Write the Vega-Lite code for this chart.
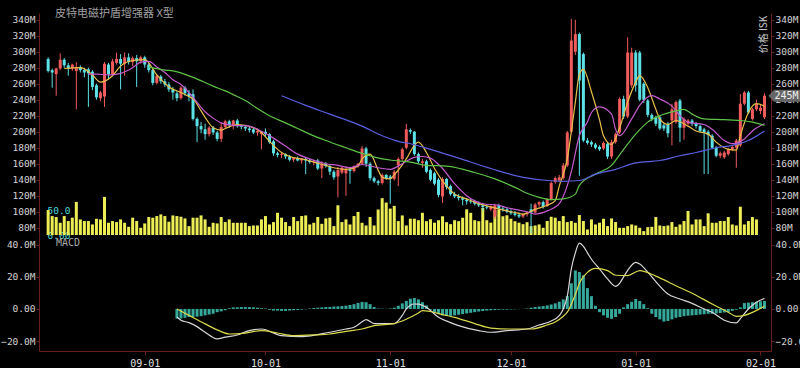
{
"$schema":"https://vega.github.io/schema/vega-lite/v6.json",
"background":"#000000",
"padding":{"left":0,"top":8,"right":0,"bottom":0},
"bounds":"flush",
"spacing":0,
"resolve":{"scale":{"color":"independent"}},
"config":{"view":{"stroke":null},"font":"DejaVu Sans Mono","axis":{"domainColor":"#6a1e1e","tickColor":"#6a1e1e","labelColor":"#d4d4d4","labelFont":"DejaVu Sans Mono","labelFontSize":9.5,"grid":false,"tickSize":3,"labelPadding":1}},
"datasets":{
"k":[
{"d":"2023-08-08","o":291,"h":293,"l":274,"c":276,"v":50.6},
{"d":"2023-08-09","o":277,"h":279,"l":255,"c":274,"v":38.4},
{"d":"2023-08-10","o":272,"h":280,"l":245,"c":279,"v":36.4},
{"d":"2023-08-11","o":279,"h":298,"l":277,"c":290,"v":24.8},
{"d":"2023-08-12","o":290,"h":292,"l":280,"c":283,"v":38.4},
{"d":"2023-08-13","o":283,"h":286,"l":270,"c":279,"v":28.3},
{"d":"2023-08-14","o":279,"h":285,"l":276,"c":284,"v":35.1},
{"d":"2023-08-15","o":276,"h":287,"l":228,"c":281,"v":67},
{"d":"2023-08-16","o":281,"h":283,"l":274,"c":277,"v":31.6},
{"d":"2023-08-17","o":277,"h":280,"l":268,"c":274,"v":28.3},
{"d":"2023-08-18","o":278,"h":280,"l":231,"c":273,"v":28.3},
{"d":"2023-08-19","o":275,"h":277,"l":252,"c":256,"v":21.4},
{"d":"2023-08-20","o":258,"h":260,"l":240,"c":243,"v":32.9},
{"d":"2023-08-21","o":242,"h":251,"l":238,"c":249,"v":31.6},
{"d":"2023-08-22","o":244,"h":287,"l":231,"c":285,"v":77.2},
{"d":"2023-08-23","o":284,"h":286,"l":265,"c":272,"v":24.8},
{"d":"2023-08-24","o":272,"h":291,"l":270,"c":288,"v":28.3},
{"d":"2023-08-25","o":286,"h":299,"l":284,"c":291,"v":26.2},
{"d":"2023-08-26","o":291,"h":297,"l":253,"c":285,"v":31.6},
{"d":"2023-08-27","o":285,"h":299,"l":270,"c":293,"v":24.8},
{"d":"2023-08-28","o":293,"h":298,"l":284,"c":287,"v":16.6},
{"d":"2023-08-29","o":287,"h":294,"l":282,"c":292,"v":35.1},
{"d":"2023-08-30","o":292,"h":296,"l":256,"c":288,"v":28.3},
{"d":"2023-08-31","o":288,"h":295,"l":285,"c":293,"v":14.6},
{"d":"2023-09-01","o":293,"h":295,"l":280,"c":284,"v":23.5},
{"d":"2023-09-02","o":284,"h":286,"l":274,"c":277,"v":36.4},
{"d":"2023-09-03","o":277,"h":279,"l":258,"c":261,"v":35.1},
{"d":"2023-09-04","o":261,"h":272,"l":259,"c":270,"v":38.4},
{"d":"2023-09-05","o":269,"h":271,"l":260,"c":263,"v":41.8},
{"d":"2023-09-06","o":263,"h":266,"l":256,"c":259,"v":38.4},
{"d":"2023-09-07","o":259,"h":262,"l":250,"c":253,"v":26.9},
{"d":"2023-09-08","o":253,"h":256,"l":240,"c":249,"v":39.7},
{"d":"2023-09-09","o":248,"h":251,"l":238,"c":242,"v":38.4,"m":-6},
{"d":"2023-09-10","o":242,"h":257,"l":240,"c":255,"v":37,"m":-6},
{"d":"2023-09-11","o":255,"h":257,"l":245,"c":248,"v":33.6,"m":-5.5},
{"d":"2023-09-12","o":248,"h":252,"l":238,"c":244,"v":18,"m":-5},
{"d":"2023-09-13","o":247,"h":253,"l":214,"c":216,"v":35.1,"m":-5},
{"d":"2023-09-14","o":216,"h":218,"l":187,"c":207,"v":35.1,"m":-4.8},
{"d":"2023-09-15","o":207,"h":212,"l":198,"c":203,"v":39.7,"m":-4.5},
{"d":"2023-09-16","o":203,"h":210,"l":190,"c":197,"v":31.6,"m":-4},
{"d":"2023-09-17","o":197,"h":207,"l":194,"c":205,"v":16.6,"m":-3.5},
{"d":"2023-09-18","o":205,"h":207,"l":196,"c":199,"v":24.8,"m":-3},
{"d":"2023-09-19","o":199,"h":201,"l":188,"c":191,"v":23.5,"m":-2},
{"d":"2023-09-20","o":191,"h":212,"l":187,"c":206,"v":36.4,"m":-1.5},
{"d":"2023-09-21","o":206,"h":215,"l":204,"c":213,"v":26.2,"m":-0.8},
{"d":"2023-09-22","o":213,"h":215,"l":205,"c":208,"v":31.6,"m":0.5},
{"d":"2023-09-23","o":207,"h":215,"l":203,"c":214,"v":24.8,"m":1},
{"d":"2023-09-24","o":214,"h":216,"l":205,"c":207,"v":24.8,"m":1},
{"d":"2023-09-25","o":207,"h":209,"l":203,"c":206,"v":24.8,"m":1.2},
{"d":"2023-09-26","o":206,"h":208,"l":201,"c":204,"v":24.8,"m":1.2},
{"d":"2023-09-27","o":204,"h":207,"l":199,"c":202,"v":18,"m":1.2},
{"d":"2023-09-28","o":203,"h":205,"l":197,"c":199,"v":19.3,"m":1},
{"d":"2023-09-29","o":199,"h":204,"l":195,"c":201,"v":19.3,"m":0.8},
{"d":"2023-09-30","o":197,"h":201,"l":178,"c":200,"v":31.6,"m":0.5},
{"d":"2023-10-01","o":200,"h":204,"l":194,"c":197,"v":38.4,"m":0.3},
{"d":"2023-10-02","o":197,"h":198,"l":185,"c":187,"v":21.4,"m":-0.5},
{"d":"2023-10-03","o":188,"h":190,"l":170,"c":173,"v":26.2,"m":-1},
{"d":"2023-10-04","o":173,"h":175,"l":168,"c":171,"v":45,"m":-1},
{"d":"2023-10-05","o":171,"h":174,"l":167,"c":172,"v":35.1,"m":-1.2},
{"d":"2023-10-06","o":172,"h":173,"l":166,"c":169,"v":26.2,"m":-1.2},
{"d":"2023-10-07","o":169,"h":171,"l":163,"c":165,"v":18,"m":-1},
{"d":"2023-10-08","o":165,"h":168,"l":162,"c":167,"v":36.4,"m":-0.8},
{"d":"2023-10-09","o":167,"h":169,"l":163,"c":164,"v":28.2,"m":-0.6},
{"d":"2023-10-10","o":164,"h":167,"l":160,"c":166,"v":38.4,"m":-0.4},
{"d":"2023-10-11","o":166,"h":168,"l":147,"c":164,"v":39.7,"m":-0.2},
{"d":"2023-10-12","o":164,"h":166,"l":160,"c":162,"v":21.4,"m":0.3},
{"d":"2023-10-13","o":162,"h":165,"l":158,"c":163,"v":24.8,"m":0.6},
{"d":"2023-10-14","o":164,"h":166,"l":152,"c":154,"v":36.4,"m":0.8},
{"d":"2023-10-15","o":154,"h":163,"l":142,"c":160,"v":22.7,"m":1},
{"d":"2023-10-16","o":160,"h":162,"l":155,"c":157,"v":33.6,"m":1.2},
{"d":"2023-10-17","o":157,"h":159,"l":146,"c":150,"v":35.1,"m":1.3},
{"d":"2023-10-18","o":150,"h":152,"l":140,"c":143,"v":18,"m":1.5},
{"d":"2023-10-19","o":144,"h":156,"l":118,"c":152,"v":60.2,"m":1.6},
{"d":"2023-10-20","o":149,"h":156,"l":147,"c":155,"v":26.2,"m":1.8},
{"d":"2023-10-21","o":148,"h":157,"l":120,"c":153,"v":31.6,"m":2},
{"d":"2023-10-22","o":153,"h":155,"l":135,"c":151,"v":21.4,"m":2.5},
{"d":"2023-10-23","o":151,"h":158,"l":149,"c":157,"v":38.4,"m":3},
{"d":"2023-10-24","o":157,"h":161,"l":155,"c":160,"v":46.8,"m":3.8},
{"d":"2023-10-25","o":160,"h":182,"l":158,"c":179,"v":24.8,"m":4.4},
{"d":"2023-10-26","o":179,"h":181,"l":156,"c":160,"v":19.3,"m":4.2},
{"d":"2023-10-27","o":160,"h":162,"l":139,"c":142,"v":36.4,"m":3},
{"d":"2023-10-28","o":142,"h":144,"l":136,"c":138,"v":19.3,"m":1.2},
{"d":"2023-10-29","o":138,"h":140,"l":133,"c":136,"v":51.7,"m":0.3},
{"d":"2023-10-30","o":136,"h":148,"l":134,"c":146,"v":74.6,"m":0.2},
{"d":"2023-10-31","o":146,"h":147,"l":140,"c":142,"v":65.8,"m":0.1},
{"d":"2023-11-01","o":144,"h":146,"l":110,"c":141,"v":53.6,"m":0.3},
{"d":"2023-11-02","o":141,"h":152,"l":139,"c":150,"v":59,"m":0.8},
{"d":"2023-11-03","o":158,"h":168,"l":132,"c":166,"v":28.2,"m":2},
{"d":"2023-11-04","o":166,"h":180,"l":164,"c":178,"v":39.7,"m":3.5},
{"d":"2023-11-05","o":180,"h":210,"l":178,"c":203,"v":19.3,"m":5},
{"d":"2023-11-06","o":202,"h":204,"l":197,"c":200,"v":33,"m":6.4},
{"d":"2023-11-07","o":200,"h":201,"l":170,"c":172,"v":33,"m":6.8},
{"d":"2023-11-08","o":172,"h":174,"l":160,"c":163,"v":30,"m":6},
{"d":"2023-11-09","o":161,"h":166,"l":155,"c":163,"v":45,"m":4.2},
{"d":"2023-11-10","o":163,"h":165,"l":148,"c":150,"v":28,"m":2.2},
{"d":"2023-11-11","o":152,"h":154,"l":138,"c":140,"v":32,"m":-0.5},
{"d":"2023-11-12","o":148,"h":150,"l":133,"c":135,"v":25,"m":-2},
{"d":"2023-11-13","o":140,"h":142,"l":118,"c":121,"v":30,"m":-3.2},
{"d":"2023-11-14","o":119,"h":143,"l":111,"c":141,"v":38,"m":-4},
{"d":"2023-11-15","o":141,"h":142,"l":128,"c":131,"v":26,"m":-4.4},
{"d":"2023-11-16","o":132,"h":134,"l":120,"c":122,"v":22,"m":-4.3},
{"d":"2023-11-17","o":122,"h":125,"l":117,"c":119,"v":30,"m":-4},
{"d":"2023-11-18","o":119,"h":122,"l":114,"c":117,"v":28,"m":-3.6},
{"d":"2023-11-19","o":117,"h":119,"l":108,"c":115,"v":35,"m":-3.2},
{"d":"2023-11-20","o":115,"h":117,"l":109,"c":113,"v":52,"m":-2.8},
{"d":"2023-11-21","o":113,"h":116,"l":110,"c":112,"v":45,"m":-2.4},
{"d":"2023-11-22","o":112,"h":115,"l":108,"c":110,"v":30,"m":-2},
{"d":"2023-11-23","o":110,"h":113,"l":106,"c":108,"v":28,"m":-1.6},
{"d":"2023-11-24","o":108,"h":111,"l":101,"c":106,"v":55,"m":-1.3},
{"d":"2023-11-25","o":106,"h":109,"l":103,"c":105,"v":30,"m":-1},
{"d":"2023-11-26","o":103,"h":108,"l":101,"c":107,"v":25,"m":-0.8},
{"d":"2023-11-27","o":94,"h":110,"l":91,"c":108,"v":50,"m":-0.6},
{"d":"2023-11-28","o":108,"h":110,"l":102,"c":104,"v":52,"m":-0.5},
{"d":"2023-11-29","o":104,"h":107,"l":100,"c":103,"v":38,"m":-0.4},
{"d":"2023-11-30","o":103,"h":105,"l":98,"c":100,"v":40,"m":-0.4},
{"d":"2023-12-01","o":100,"h":103,"l":96,"c":98,"v":33,"m":-0.3},
{"d":"2023-12-02","o":98,"h":101,"l":94,"c":96,"v":28,"m":-0.2},
{"d":"2023-12-03","o":96,"h":99,"l":92,"c":94,"v":25,"m":-0.1},
{"d":"2023-12-04","o":94,"h":98,"l":92,"c":97,"v":22,"m":0.1},
{"d":"2023-12-05","o":97,"h":100,"l":94,"c":99,"v":26,"m":0.3},
{"d":"2023-12-06","o":103,"h":110,"l":73,"c":99,"v":18,"m":0.8},
{"d":"2023-12-07","o":99,"h":111,"l":98,"c":109,"v":19.3,"m":1.2},
{"d":"2023-12-08","o":109,"h":113,"l":106,"c":112,"v":21.4,"m":1.5},
{"d":"2023-12-09","o":112,"h":114,"l":104,"c":106,"v":14.6,"m":1.8},
{"d":"2023-12-10","o":107,"h":117,"l":106,"c":116,"v":28.3,"m":2.2},
{"d":"2023-12-11","o":116,"h":138,"l":114,"c":136,"v":37,"m":2.8},
{"d":"2023-12-12","o":137,"h":144,"l":135,"c":142,"v":35.1,"m":3.5},
{"d":"2023-12-13","o":139,"h":146,"l":137,"c":143,"v":28.3,"m":4.5},
{"d":"2023-12-14","o":142,"h":161,"l":140,"c":158,"v":38.4,"m":6},
{"d":"2023-12-15","o":158,"h":201,"l":156,"c":199,"v":26.2,"m":8},
{"d":"2023-12-16","o":200,"h":341,"l":198,"c":314,"v":28.3,"m":16},
{"d":"2023-12-17","o":300,"h":340,"l":296,"c":322,"v":24.8,"m":24},
{"d":"2023-12-18","o":322,"h":324,"l":145,"c":264,"v":40.4,"m":23},
{"d":"2023-12-19","o":297,"h":299,"l":187,"c":189,"v":28.3,"m":21},
{"d":"2023-12-20","o":189,"h":192,"l":184,"c":186,"v":11.2,"m":13},
{"d":"2023-12-21","o":187,"h":189,"l":181,"c":184,"v":31.6,"m":8},
{"d":"2023-12-22","o":184,"h":186,"l":178,"c":180,"v":21.4,"m":2},
{"d":"2023-12-23","o":181,"h":183,"l":176,"c":178,"v":24.8,"m":-2},
{"d":"2023-12-24","o":179,"h":188,"l":177,"c":186,"v":32.9,"m":-4},
{"d":"2023-12-25","o":185,"h":187,"l":166,"c":169,"v":18,"m":-5.5},
{"d":"2023-12-26","o":169,"h":190,"l":166,"c":187,"v":33.6,"m":-6.2},
{"d":"2023-12-27","o":187,"h":199,"l":185,"c":197,"v":26.2,"m":-5},
{"d":"2023-12-28","o":199,"h":243,"l":197,"c":241,"v":14.6,"m":-3},
{"d":"2023-12-29","o":241,"h":245,"l":216,"c":219,"v":14.6,"m":1},
{"d":"2023-12-30","o":219,"h":318,"l":217,"c":299,"v":18,"m":3},
{"d":"2023-12-31","o":258,"h":305,"l":255,"c":299,"v":21.4,"m":4.5},
{"d":"2024-01-01","o":299,"h":302,"l":250,"c":258,"v":19.3,"m":6.2},
{"d":"2024-01-02","o":299,"h":301,"l":238,"c":240,"v":14.6,"m":5},
{"d":"2024-01-03","o":260,"h":262,"l":236,"c":240,"v":7.9,"m":3},
{"d":"2024-01-04","o":239,"h":241,"l":218,"c":221,"v":15.9,"m":0.5},
{"d":"2024-01-05","o":221,"h":223,"l":213,"c":216,"v":16.6,"m":-3},
{"d":"2024-01-06","o":218,"h":220,"l":207,"c":210,"v":36.4,"m":-5},
{"d":"2024-01-07","o":218,"h":220,"l":202,"c":204,"v":19.3,"m":-6.5},
{"d":"2024-01-08","o":208,"h":210,"l":201,"c":204,"v":18,"m":-7.9},
{"d":"2024-01-09","o":210,"h":212,"l":193,"c":198,"v":19.3,"m":-7.5},
{"d":"2024-01-10","o":214,"h":235,"l":183,"c":228,"v":26.2,"m":-6.5},
{"d":"2024-01-11","o":212,"h":239,"l":210,"c":237,"v":16.6,"m":-5.5},
{"d":"2024-01-12","o":239,"h":241,"l":187,"c":205,"v":21.4,"m":-5},
{"d":"2024-01-13","o":205,"h":218,"l":190,"c":216,"v":28.3,"m":-4.5},
{"d":"2024-01-14","o":210,"h":216,"l":208,"c":214,"v":48.6,"m":-4.2},
{"d":"2024-01-15","o":214,"h":216,"l":207,"c":210,"v":21.4,"m":-4},
{"d":"2024-01-16","o":210,"h":212,"l":204,"c":207,"v":31.6,"m":-3.8},
{"d":"2024-01-17","o":207,"h":209,"l":199,"c":201,"v":31.6,"m":-3.5},
{"d":"2024-01-18","o":203,"h":205,"l":147,"c":199,"v":18,"m":-3.3},
{"d":"2024-01-19","o":200,"h":202,"l":147,"c":196,"v":43.9,"m":-3},
{"d":"2024-01-20","o":195,"h":197,"l":178,"c":180,"v":24.8,"m":-3},
{"d":"2024-01-21","o":180,"h":182,"l":168,"c":170,"v":24.8,"m":-2.8},
{"d":"2024-01-22","o":170,"h":175,"l":167,"c":173,"v":28.3,"m":-2.5},
{"d":"2024-01-23","o":168,"h":176,"l":166,"c":174,"v":28.3,"m":-2.2},
{"d":"2024-01-24","o":172,"h":180,"l":170,"c":178,"v":36.4,"m":-2},
{"d":"2024-01-25","o":178,"h":183,"l":176,"c":181,"v":21.4,"m":-1.2},
{"d":"2024-01-26","o":180,"h":191,"l":155,"c":189,"v":19.3,"m":-0.5},
{"d":"2024-01-27","o":183,"h":247,"l":181,"c":235,"v":57.4,"m":1},
{"d":"2024-01-28","o":235,"h":251,"l":233,"c":249,"v":21.4,"m":3.7},
{"d":"2024-01-29","o":249,"h":251,"l":222,"c":224,"v":28.3,"m":4},
{"d":"2024-01-30","o":216,"h":230,"l":214,"c":228,"v":36.4,"m":4.2},
{"d":"2024-01-31","o":228,"h":240,"l":226,"c":235,"v":31.6,"m":4.5},
{"d":"2024-02-01","o":226,"h":234,"l":222,"c":230,"m":4.8},
{"d":"2024-02-02","o":218,"h":248,"l":216,"c":245,"m":5}
],
"ma":[
{"d":"2023-08-12","s":"MA5","v":279},{"d":"2023-08-16","s":"MA5","v":280},{"d":"2023-08-19","s":"MA5","v":271},{"d":"2023-08-21","s":"MA5","v":262},{"d":"2023-08-24","s":"MA5","v":270},{"d":"2023-08-26","s":"MA5","v":282},{"d":"2023-08-29","s":"MA5","v":289},{"d":"2023-09-01","s":"MA5","v":290},{"d":"2023-09-04","s":"MA5","v":271},{"d":"2023-09-07","s":"MA5","v":256},{"d":"2023-09-10","s":"MA5","v":249},{"d":"2023-09-12","s":"MA5","v":244},{"d":"2023-09-13","s":"MA5","v":241},{"d":"2023-09-15","s":"MA5","v":226},{"d":"2023-09-16","s":"MA5","v":218},{"d":"2023-09-18","s":"MA5","v":205},{"d":"2023-09-20","s":"MA5","v":202},{"d":"2023-09-21","s":"MA5","v":204},{"d":"2023-09-24","s":"MA5","v":209},{"d":"2023-09-28","s":"MA5","v":205},{"d":"2023-09-30","s":"MA5","v":199},{"d":"2023-10-02","s":"MA5","v":188},{"d":"2023-10-05","s":"MA5","v":174},{"d":"2023-10-07","s":"MA5","v":169},{"d":"2023-10-11","s":"MA5","v":165},{"d":"2023-10-13","s":"MA5","v":162},{"d":"2023-10-16","s":"MA5","v":158},{"d":"2023-10-18","s":"MA5","v":155},{"d":"2023-10-21","s":"MA5","v":153},{"d":"2023-10-24","s":"MA5","v":157},{"d":"2023-10-25","s":"MA5","v":166},{"d":"2023-10-27","s":"MA5","v":172},{"d":"2023-10-29","s":"MA5","v":152},{"d":"2023-10-30","s":"MA5","v":143},{"d":"2023-11-01","s":"MA5","v":141},{"d":"2023-11-02","s":"MA5","v":146},{"d":"2023-11-05","s":"MA5","v":166},{"d":"2023-11-07","s":"MA5","v":183},{"d":"2023-11-08","s":"MA5","v":187},{"d":"2023-11-10","s":"MA5","v":174},{"d":"2023-11-12","s":"MA5","v":154},{"d":"2023-11-15","s":"MA5","v":132},{"d":"2023-11-17","s":"MA5","v":122},{"d":"2023-11-20","s":"MA5","v":116},{"d":"2023-11-22","s":"MA5","v":112},{"d":"2023-11-26","s":"MA5","v":106},{"d":"2023-11-30","s":"MA5","v":101},{"d":"2023-12-02","s":"MA5","v":99},{"d":"2023-12-04","s":"MA5","v":97},{"d":"2023-12-07","s":"MA5","v":103},{"d":"2023-12-10","s":"MA5","v":108},{"d":"2023-12-12","s":"MA5","v":114},{"d":"2023-12-13","s":"MA5","v":132},{"d":"2023-12-15","s":"MA5","v":166},{"d":"2023-12-16","s":"MA5","v":200},{"d":"2023-12-17","s":"MA5","v":237},{"d":"2023-12-18","s":"MA5","v":272},{"d":"2023-12-19","s":"MA5","v":278},{"d":"2023-12-21","s":"MA5","v":250},{"d":"2023-12-23","s":"MA5","v":215},{"d":"2023-12-24","s":"MA5","v":195},{"d":"2023-12-26","s":"MA5","v":184},{"d":"2023-12-28","s":"MA5","v":205},{"d":"2023-12-30","s":"MA5","v":237},{"d":"2024-01-01","s":"MA5","v":262},{"d":"2024-01-02","s":"MA5","v":270},{"d":"2024-01-04","s":"MA5","v":255},{"d":"2024-01-06","s":"MA5","v":228},{"d":"2024-01-07","s":"MA5","v":216},{"d":"2024-01-09","s":"MA5","v":209},{"d":"2024-01-11","s":"MA5","v":214},{"d":"2024-01-14","s":"MA5","v":207},{"d":"2024-01-16","s":"MA5","v":201},{"d":"2024-01-19","s":"MA5","v":197},{"d":"2024-01-21","s":"MA5","v":187},{"d":"2024-01-24","s":"MA5","v":178},{"d":"2024-01-26","s":"MA5","v":177},{"d":"2024-01-27","s":"MA5","v":195},{"d":"2024-01-29","s":"MA5","v":224},{"d":"2024-01-31","s":"MA5","v":235},{"d":"2024-02-02","s":"MA5","v":232},
{"d":"2023-08-18","s":"MA10","v":272},{"d":"2023-08-20","s":"MA10","v":272},{"d":"2023-08-23","s":"MA10","v":271},{"d":"2023-08-26","s":"MA10","v":273},{"d":"2023-08-29","s":"MA10","v":280},{"d":"2023-08-31","s":"MA10","v":287},{"d":"2023-09-02","s":"MA10","v":288},{"d":"2023-09-04","s":"MA10","v":281},{"d":"2023-09-06","s":"MA10","v":274},{"d":"2023-09-08","s":"MA10","v":265},{"d":"2023-09-10","s":"MA10","v":259},{"d":"2023-09-13","s":"MA10","v":243},{"d":"2023-09-16","s":"MA10","v":225},{"d":"2023-09-18","s":"MA10","v":217},{"d":"2023-09-20","s":"MA10","v":211},{"d":"2023-09-23","s":"MA10","v":208},{"d":"2023-09-27","s":"MA10","v":207},{"d":"2023-09-29","s":"MA10","v":203},{"d":"2023-10-03","s":"MA10","v":192},{"d":"2023-10-06","s":"MA10","v":182},{"d":"2023-10-09","s":"MA10","v":172},{"d":"2023-10-12","s":"MA10","v":166},{"d":"2023-10-16","s":"MA10","v":160},{"d":"2023-10-19","s":"MA10","v":158},{"d":"2023-10-22","s":"MA10","v":155},{"d":"2023-10-25","s":"MA10","v":159},{"d":"2023-10-29","s":"MA10","v":155},{"d":"2023-11-01","s":"MA10","v":153},{"d":"2023-11-04","s":"MA10","v":160},{"d":"2023-11-07","s":"MA10","v":168},{"d":"2023-11-09","s":"MA10","v":169},{"d":"2023-11-11","s":"MA10","v":167},{"d":"2023-11-14","s":"MA10","v":154},{"d":"2023-11-17","s":"MA10","v":135},{"d":"2023-11-20","s":"MA10","v":120},{"d":"2023-11-24","s":"MA10","v":110},{"d":"2023-11-28","s":"MA10","v":108},{"d":"2023-11-30","s":"MA10","v":105},{"d":"2023-12-02","s":"MA10","v":103},{"d":"2023-12-05","s":"MA10","v":100},{"d":"2023-12-07","s":"MA10","v":97},{"d":"2023-12-10","s":"MA10","v":101},{"d":"2023-12-13","s":"MA10","v":110},{"d":"2023-12-16","s":"MA10","v":150},{"d":"2023-12-18","s":"MA10","v":195},{"d":"2023-12-20","s":"MA10","v":212},{"d":"2023-12-21","s":"MA10","v":224},{"d":"2023-12-23","s":"MA10","v":231},{"d":"2023-12-26","s":"MA10","v":222},{"d":"2023-12-27","s":"MA10","v":203},{"d":"2023-12-28","s":"MA10","v":195},{"d":"2023-12-31","s":"MA10","v":216},{"d":"2024-01-02","s":"MA10","v":233},{"d":"2024-01-05","s":"MA10","v":245},{"d":"2024-01-07","s":"MA10","v":241},{"d":"2024-01-10","s":"MA10","v":232},{"d":"2024-01-12","s":"MA10","v":220},{"d":"2024-01-14","s":"MA10","v":212},{"d":"2024-01-18","s":"MA10","v":209},{"d":"2024-01-20","s":"MA10","v":203},{"d":"2024-01-23","s":"MA10","v":189},{"d":"2024-01-25","s":"MA10","v":185},{"d":"2024-01-28","s":"MA10","v":191},{"d":"2024-01-30","s":"MA10","v":201},{"d":"2024-02-02","s":"MA10","v":210},
{"d":"2023-09-02","s":"MA30","v":281},{"d":"2023-09-06","s":"MA30","v":277},{"d":"2023-09-08","s":"MA30","v":276},{"d":"2023-09-13","s":"MA30","v":268},{"d":"2023-09-18","s":"MA30","v":257},{"d":"2023-09-21","s":"MA30","v":251},{"d":"2023-09-24","s":"MA30","v":244},{"d":"2023-09-26","s":"MA30","v":239},{"d":"2023-09-29","s":"MA30","v":229},{"d":"2023-10-02","s":"MA30","v":220},{"d":"2023-10-06","s":"MA30","v":211},{"d":"2023-10-09","s":"MA30","v":204},{"d":"2023-10-12","s":"MA30","v":197},{"d":"2023-10-16","s":"MA30","v":189},{"d":"2023-10-21","s":"MA30","v":180},{"d":"2023-10-25","s":"MA30","v":173},{"d":"2023-10-30","s":"MA30","v":166},{"d":"2023-11-02","s":"MA30","v":164},{"d":"2023-11-06","s":"MA30","v":162},{"d":"2023-11-10","s":"MA30","v":158},{"d":"2023-11-15","s":"MA30","v":157},{"d":"2023-11-22","s":"MA30","v":149},{"d":"2023-11-27","s":"MA30","v":141},{"d":"2023-12-03","s":"MA30","v":128},{"d":"2023-12-05","s":"MA30","v":123},{"d":"2023-12-08","s":"MA30","v":118},{"d":"2023-12-11","s":"MA30","v":115},{"d":"2023-12-14","s":"MA30","v":116},{"d":"2023-12-17","s":"MA30","v":122},{"d":"2023-12-18","s":"MA30","v":133},{"d":"2023-12-22","s":"MA30","v":147},{"d":"2023-12-26","s":"MA30","v":158},{"d":"2023-12-29","s":"MA30","v":178},{"d":"2024-01-01","s":"MA30","v":197},{"d":"2024-01-04","s":"MA30","v":212},{"d":"2024-01-07","s":"MA30","v":220},{"d":"2024-01-11","s":"MA30","v":226},{"d":"2024-01-13","s":"MA30","v":228},{"d":"2024-01-15","s":"MA30","v":222},{"d":"2024-01-18","s":"MA30","v":216},{"d":"2024-01-23","s":"MA30","v":215},{"d":"2024-01-27","s":"MA30","v":214},{"d":"2024-01-30","s":"MA30","v":212},{"d":"2024-02-02","s":"MA30","v":208},
{"d":"2023-10-05","s":"MA60","v":245},{"d":"2023-10-11","s":"MA60","v":233},{"d":"2023-10-17","s":"MA60","v":222},{"d":"2023-10-25","s":"MA60","v":207},{"d":"2023-10-30","s":"MA60","v":195},{"d":"2023-11-03","s":"MA60","v":188},{"d":"2023-11-06","s":"MA60","v":185},{"d":"2023-11-11","s":"MA60","v":178},{"d":"2023-11-18","s":"MA60","v":167},{"d":"2023-11-26","s":"MA60","v":154},{"d":"2023-12-04","s":"MA60","v":143},{"d":"2023-12-10","s":"MA60","v":139},{"d":"2023-12-14","s":"MA60","v":138},{"d":"2023-12-18","s":"MA60","v":139},{"d":"2023-12-22","s":"MA60","v":147},{"d":"2023-12-27","s":"MA60","v":153},{"d":"2024-01-01","s":"MA60","v":161},{"d":"2024-01-07","s":"MA60","v":164},{"d":"2024-01-12","s":"MA60","v":170},{"d":"2024-01-16","s":"MA60","v":174},{"d":"2024-01-21","s":"MA60","v":180},{"d":"2024-01-25","s":"MA60","v":183},{"d":"2024-01-29","s":"MA60","v":189},{"d":"2024-02-02","s":"MA60","v":201}
],
"macd":[
{"d":"2023-09-09","s":"DIF","v":-5},{"d":"2023-09-10","s":"DIF","v":-7},{"d":"2023-09-12","s":"DIF","v":-8.5},{"d":"2023-09-14","s":"DIF","v":-11},{"d":"2023-09-16","s":"DIF","v":-14.5},{"d":"2023-09-19","s":"DIF","v":-18.7},{"d":"2023-09-21","s":"DIF","v":-17.6},{"d":"2023-09-24","s":"DIF","v":-16.2},{"d":"2023-09-27","s":"DIF","v":-13.5},{"d":"2023-09-30","s":"DIF","v":-12.5},{"d":"2023-10-05","s":"DIF","v":-16.6},{"d":"2023-10-10","s":"DIF","v":-17.2},{"d":"2023-10-17","s":"DIF","v":-14.5},{"d":"2023-10-21","s":"DIF","v":-12.5},{"d":"2023-10-23","s":"DIF","v":-11.4},{"d":"2023-10-25","s":"DIF","v":-8},{"d":"2023-10-26","s":"DIF","v":-6.6},{"d":"2023-10-28","s":"DIF","v":-9.1},{"d":"2023-11-02","s":"DIF","v":-9.1},{"d":"2023-11-04","s":"DIF","v":-4},{"d":"2023-11-05","s":"DIF","v":0},{"d":"2023-11-07","s":"DIF","v":3.1},{"d":"2023-11-08","s":"DIF","v":3},{"d":"2023-11-10","s":"DIF","v":1},{"d":"2023-11-13","s":"DIF","v":-5.2},{"d":"2023-11-16","s":"DIF","v":-8.5},{"d":"2023-11-18","s":"DIF","v":-10.4},{"d":"2023-11-23","s":"DIF","v":-13.5},{"d":"2023-11-26","s":"DIF","v":-14.5},{"d":"2023-11-30","s":"DIF","v":-13.5},{"d":"2023-12-05","s":"DIF","v":-12.5},{"d":"2023-12-08","s":"DIF","v":-10},{"d":"2023-12-11","s":"DIF","v":-7.5},{"d":"2023-12-13","s":"DIF","v":-4.2},{"d":"2023-12-14","s":"DIF","v":0},{"d":"2023-12-15","s":"DIF","v":8},{"d":"2023-12-16","s":"DIF","v":25},{"d":"2023-12-17","s":"DIF","v":35},{"d":"2023-12-18","s":"DIF","v":41},{"d":"2023-12-19","s":"DIF","v":39},{"d":"2023-12-20","s":"DIF","v":35},{"d":"2023-12-21","s":"DIF","v":31},{"d":"2023-12-23","s":"DIF","v":25},{"d":"2023-12-25","s":"DIF","v":18.7},{"d":"2023-12-27","s":"DIF","v":14.1},{"d":"2023-12-28","s":"DIF","v":16},{"d":"2023-12-29","s":"DIF","v":20},{"d":"2023-12-30","s":"DIF","v":24},{"d":"2024-01-01","s":"DIF","v":29},{"d":"2024-01-02","s":"DIF","v":28},{"d":"2024-01-04","s":"DIF","v":23},{"d":"2024-01-06","s":"DIF","v":17},{"d":"2024-01-09","s":"DIF","v":9.3},{"d":"2024-01-12","s":"DIF","v":6.2},{"d":"2024-01-15","s":"DIF","v":3.5},{"d":"2024-01-18","s":"DIF","v":0},{"d":"2024-01-20","s":"DIF","v":-2.1},{"d":"2024-01-23","s":"DIF","v":-7},{"d":"2024-01-26","s":"DIF","v":-8.7},{"d":"2024-01-27","s":"DIF","v":-6},{"d":"2024-01-29","s":"DIF","v":0},{"d":"2024-01-31","s":"DIF","v":4.2},{"d":"2024-02-02","s":"DIF","v":6.6},
{"d":"2023-09-09","s":"DEA","v":0},{"d":"2023-09-12","s":"DEA","v":-4},{"d":"2023-09-16","s":"DEA","v":-9.3},{"d":"2023-09-19","s":"DEA","v":-13},{"d":"2023-09-22","s":"DEA","v":-15.6},{"d":"2023-09-26","s":"DEA","v":-15},{"d":"2023-09-30","s":"DEA","v":-13.5},{"d":"2023-10-04","s":"DEA","v":-15},{"d":"2023-10-08","s":"DEA","v":-16.6},{"d":"2023-10-13","s":"DEA","v":-16.2},{"d":"2023-10-17","s":"DEA","v":-15.6},{"d":"2023-10-21","s":"DEA","v":-14},{"d":"2023-10-25","s":"DEA","v":-12.5},{"d":"2023-10-28","s":"DEA","v":-10.4},{"d":"2023-11-02","s":"DEA","v":-9.1},{"d":"2023-11-04","s":"DEA","v":-7.5},{"d":"2023-11-06","s":"DEA","v":-5.2},{"d":"2023-11-08","s":"DEA","v":-2.5},{"d":"2023-11-09","s":"DEA","v":-1},{"d":"2023-11-11","s":"DEA","v":-1.6},{"d":"2023-11-14","s":"DEA","v":-3.5},{"d":"2023-11-17","s":"DEA","v":-5.2},{"d":"2023-11-22","s":"DEA","v":-9.1},{"d":"2023-11-26","s":"DEA","v":-11.9},{"d":"2023-12-01","s":"DEA","v":-12.5},{"d":"2023-12-06","s":"DEA","v":-12.5},{"d":"2023-12-10","s":"DEA","v":-10},{"d":"2023-12-12","s":"DEA","v":-8.1},{"d":"2023-12-14","s":"DEA","v":-4.5},{"d":"2023-12-15","s":"DEA","v":-2},{"d":"2023-12-16","s":"DEA","v":3},{"d":"2023-12-17","s":"DEA","v":9},{"d":"2023-12-18","s":"DEA","v":16},{"d":"2023-12-19","s":"DEA","v":20},{"d":"2023-12-20","s":"DEA","v":22.8},{"d":"2023-12-22","s":"DEA","v":25.3},{"d":"2023-12-25","s":"DEA","v":23.9},{"d":"2023-12-27","s":"DEA","v":21},{"d":"2023-12-30","s":"DEA","v":20.8},{"d":"2024-01-02","s":"DEA","v":23.9},{"d":"2024-01-06","s":"DEA","v":20.5},{"d":"2024-01-11","s":"DEA","v":14.5},{"d":"2024-01-15","s":"DEA","v":9.8},{"d":"2024-01-20","s":"DEA","v":3.1},{"d":"2024-01-24","s":"DEA","v":-2},{"d":"2024-01-26","s":"DEA","v":-4.6},{"d":"2024-01-28","s":"DEA","v":-4},{"d":"2024-01-30","s":"DEA","v":-2.1},{"d":"2024-02-02","s":"DEA","v":1.7}
],
"tag":[{"d":"2024-02-02","v":245,"t":"245M"}]
},
"vconcat":[
{
"width":732,"height":222,
"title":{"text":"皮特电磁护盾增强器 X型","anchor":"start","frame":"group","offset":-15,"dx":16,"font":"Noto Sans CJK SC","fontSize":11,"fontWeight":"normal","color":"#a0a0a0","baseline":"alphabetic"},
"encoding":{"x":{"field":"d","type":"temporal","scale":{"type":"utc","nice":false,"domain":[{"year":2023,"month":8,"date":6,"hours":23,"minutes":17,"utc":true},{"year":2024,"month":2,"date":2,"hours":9,"utc":true}]},"axis":null}},
"layer":[
{"data":{"name":"k"},"transform":[{"filter":"isValid(datum.v)"}],"mark":{"type":"bar","width":3,"color":"#eded55"},
 "encoding":{"y":{"field":"v","type":"quantitative","scale":{"domain":[0,450],"nice":false},"axis":{"orient":"left","values":[0,50],"labelExpr":"datum.value == 0 ? '0.00' : '50.0'","labelColor":"#4dd4d8","labelAlign":"left","labelPadding":-8,"ticks":false,"domain":false,"title":null}}}},
{"data":{"name":"k"},"mark":{"type":"rule","strokeWidth":1},
 "encoding":{"y":{"field":"l","type":"quantitative","scale":{"domain":[70.9,348.4],"nice":false,"zero":false},"axis":{"orient":"left","values":[80,100,120,140,160,180,200,220,240,260,280,300,320,340],"labelExpr":"datum.value + 'M'","title":null}},"y2":{"field":"h"},
 "color":{"condition":{"test":"datum.c >= datum.o","value":"#f05b5b"},"value":"#5ce1e6"}}},
{"data":{"name":"k"},"mark":{"type":"bar","width":3},
 "encoding":{"y":{"field":"o","type":"quantitative","scale":{"domain":[70.9,348.4],"nice":false,"zero":false},"axis":null},"y2":{"field":"c"},
 "color":{"condition":{"test":"datum.c >= datum.o","value":"#f05b5b"},"value":"#5ce1e6"}}},
{"data":{"name":"ma"},"mark":{"type":"line","strokeWidth":1.2,"interpolate":"monotone"},
 "encoding":{"y":{"field":"v","type":"quantitative","scale":{"domain":[70.9,348.4],"nice":false,"zero":false},"axis":null},
 "color":{"field":"s","type":"nominal","scale":{"domain":["MA5","MA10","MA30","MA60"],"range":["#e8bf4a","#c45ccf","#5ec248","#5b5fe0"]},"legend":null}}},
{"data":{"name":"tag"},"mark":{"type":"point","shape":"M0.25,0L0.6,-0.375L2.3,-0.375L2.3,0.375L0.6,0.375Z","size":1024,"filled":true,"color":"#666666","opacity":1,"strokeWidth":0},
 "encoding":{"y":{"field":"v","type":"quantitative","scale":{"domain":[70.9,348.4],"nice":false,"zero":false},"axis":{"orient":"right","values":[80,100,120,140,160,180,200,220,240,260,280,300,320,340],"labelExpr":"datum.value + 'M'","title":"价格 ISK","titleFont":"Noto Sans CJK SC","titleFontSize":10,"titleFontWeight":"normal","titleColor":"#c8c8c8","titleAngle":-90,"titleX":-8,"titleY":21,"titleAlign":"center","titleBaseline":"middle"}}}},
{"data":{"name":"tag"},"mark":{"type":"text","dx":22,"fontSize":10,"font":"DejaVu Sans Mono","color":"#eeeeee","align":"center","baseline":"middle"},
 "encoding":{"y":{"field":"v","type":"quantitative","scale":{"domain":[70.9,348.4],"nice":false,"zero":false},"axis":null},"text":{"field":"t"}}}
],
"resolve":{"scale":{"y":"independent"},"axis":{"y":"independent"}}
},
{
"width":732,"height":116,
"title":{"text":"MACD","anchor":"start","frame":"group","offset":-21,"dx":17,"font":"DejaVu Sans Mono","fontSize":10,"fontWeight":"normal","color":"#a8a8a8","baseline":"alphabetic"},
"encoding":{"x":{"field":"d","type":"temporal","title":null,"scale":{"type":"utc","nice":false,"domain":[{"year":2023,"month":8,"date":6,"hours":23,"minutes":17,"utc":true},{"year":2024,"month":2,"date":2,"hours":9,"utc":true}]},"axis":{"orient":"bottom","tickCount":{"interval":"month","step":1},"format":"%m-%d","labelFlush":false,"labelColor":"#e0e0e0","labelFontSize":10,"tickSize":4,"labelPadding":3,"title":null}}},
"layer":[
{"data":{"name":"k"},"transform":[{"filter":"isValid(datum.m)"}],"mark":{"type":"bar","width":3,"color":"#35a79b"},
 "encoding":{"y":{"field":"m","type":"quantitative","scale":{"domain":[-26.2,46.1],"nice":false},"axis":{"orient":"left","values":[-20,0,20,40],"labelExpr":"datum.value == 0 ? '0.00' : format(datum.value, '.1f') + 'M'","title":null}}}},
{"data":{"name":"macd"},"mark":{"type":"line","strokeWidth":1.2,"interpolate":"monotone"},
 "encoding":{"y":{"field":"v","type":"quantitative","scale":{"domain":[-26.2,46.1],"nice":false},"axis":{"orient":"right","values":[-20,0,20,40],"labelExpr":"datum.value == 0 ? '0.00' : format(datum.value, '.1f') + 'M'","title":null}},
 "color":{"field":"s","type":"nominal","scale":{"domain":["DIF","DEA"],"range":["#d6d6d6","#d8d84c"]},"legend":null}}}
],
"resolve":{"scale":{"y":"independent"},"axis":{"y":"independent"}}
}
]
}
